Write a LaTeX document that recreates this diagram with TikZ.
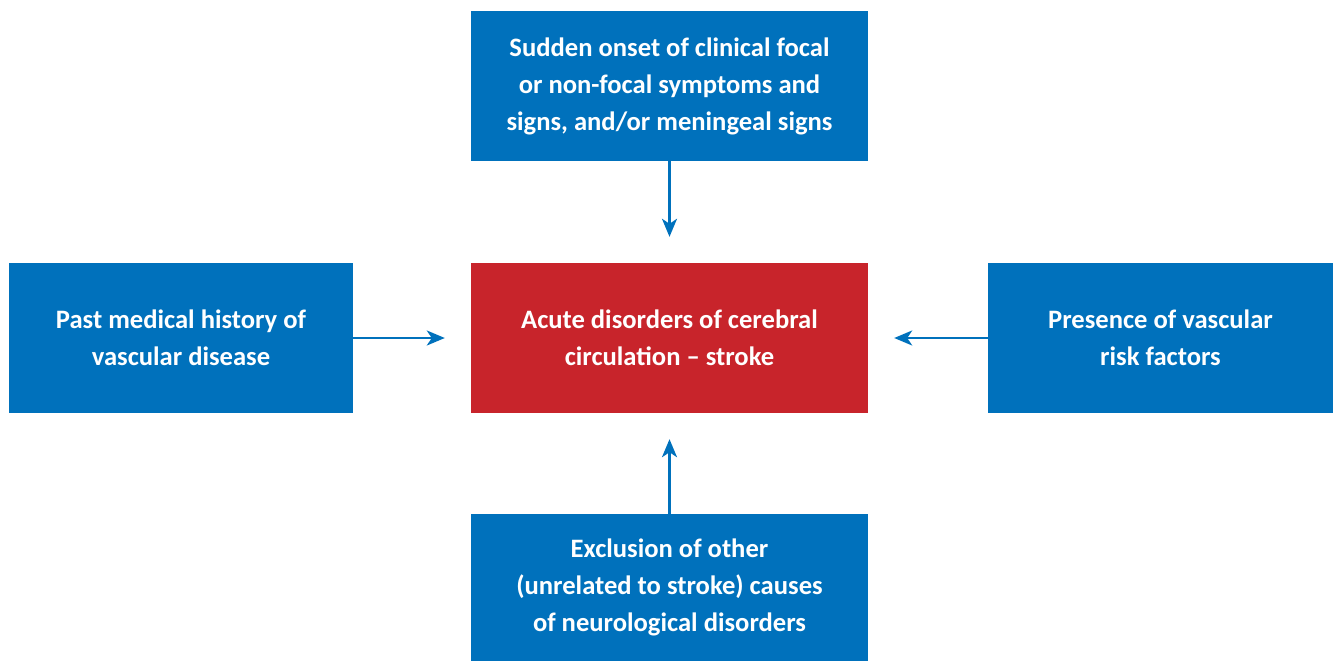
\documentclass[tikz,border=0pt]{standalone}
\usepackage{fontspec}
\setmainfont{Carlito}
\usepackage{xcolor}
\usepackage{tikz}
\usetikzlibrary{arrows.meta,positioning}
\definecolor{boxblue}{HTML}{0071BC}
\definecolor{boxred}{HTML}{C8242B}
\tikzset{
  every node/.style={font=\fontsize{26.6}{37}\selectfont\bfseries,text=white},
  crit/.style={fill=boxblue,draw=none,align=center,inner sep=0pt,minimum height=150pt},
  goal/.style={crit,fill=boxred},
  feed/.style={-{Stealth[length=18pt,width=15pt,inset=5pt]},line width=2.4pt,draw=boxblue,shorten >=26pt}
}
\begin{document}
\begin{tikzpicture}[x=1pt,y=-1pt]
  \useasboundingbox (0,0) rectangle (1333,661);
  \node[goal,minimum width=397pt] (stroke) at (669.5,338) {Acute disorders of cerebral\\circulation -- stroke};
  \node[crit,minimum width=397pt] (onset) at (669.5,86) {Sudden onset of clinical focal\\or non-focal symptoms and\\signs, and/or meningeal signs};
  \node[crit,minimum width=344pt] (history) at (181,338) {Past medical history of\\vascular disease};
  \node[crit,minimum width=345pt] (risk) at (1160.5,338) {Presence of vascular\\risk factors};
  \node[crit,minimum width=397pt,minimum height=147pt] (exclusion) at (669.5,587.5) {Exclusion of other\\(unrelated to stroke) causes\\of neurological disorders};
  \draw[feed] (onset) -- (stroke);
  \draw[feed] (history) -- (stroke);
  \draw[feed] (risk) -- (stroke);
  \draw[feed] (exclusion) -- (stroke);
\end{tikzpicture}
\end{document}
